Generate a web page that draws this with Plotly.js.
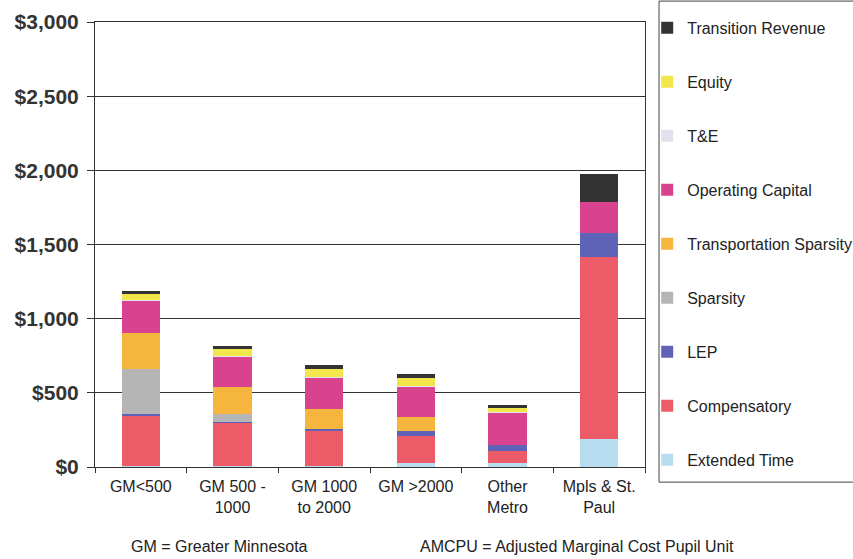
<!DOCTYPE html>
<html>
<head>
<meta charset="utf-8">
<script src="https://cdn.plot.ly/plotly-3.0.1.min.js"></script>
<style>html,body{margin:0;padding:0;background:#fff;}#chart{width:853px;height:559px;}</style>
</head>
<body>
<div id="chart"></div>
<script>
var categories = ["GM<500", "GM 500 -<br>1000", "GM 1000<br>to 2000", "GM >2000", "Other<br>Metro", "Mpls & St.<br>Paul"];

var extendedTime   = [5, 5, 10, 30, 30, 188];
var compensatory   = [340, 290, 235, 180, 78, 1226];
var lep            = [10, 8, 8, 33, 40, 163];
var sparsity       = [305, 57, 0, 0, 0, 0];
var transSparsity  = [245, 180, 140, 95, 0, 0];
var operatingCap   = [215, 203, 207, 200, 215, 209];
var tAndE          = [5, 5, 5, 5, 5, 0];
var equity         = [42, 50, 58, 60, 33, 0];
var transitionRev  = [20, 20, 25, 23, 18, 187];

var yTickVals = [0, 500, 1000, 1500, 2000, 2500, 3000];
var yTickText = ["$0", "$500", "$1,000", "$1,500", "$2,000", "$2,500", "$3,000"];

var seriesNames = ["Extended Time", "Compensatory", "LEP", "Sparsity", "Transportation Sparsity", "Operating Capital", "T&E", "Equity", "Transition Revenue"];
var seriesData = [extendedTime, compensatory, lep, sparsity, transSparsity, operatingCap, tAndE, equity, transitionRev];
var seriesColors = ["#B8DDF0", "#EE5B68", "#5F63B8", "#B5B5B5", "#F6B63E", "#D8428F", "#E2E2EE", "#F3E64C", "#333333"];

var traces = seriesNames.map(function(name, i) {
  return {
    type: "bar",
    name: name,
    x: categories,
    y: seriesData[i],
    marker: {color: seriesColors[i], line: {width: 0}},
    legendgroup: "g" + i,
    legendrank: (seriesNames.length - i) * 10,
    hoverinfo: "y+name"
  };
});

var layout = {
  width: 853,
  height: 559,
  barmode: "stack",
  bargap: 0.58,
  paper_bgcolor: "#ffffff",
  plot_bgcolor: "#ffffff",
  margin: {l: 95, r: 208, t: 22, b: 92, autoexpand: false},
  font: {family: "Liberation Sans, Arial, sans-serif", color: "#222"},
  xaxis: {
    showline: true, linecolor: "#333", linewidth: 1, mirror: true,
    ticks: "outside", tickson: "boundaries", ticklen: 5, tickcolor: "#333",
    tickfont: {size: 16, color: "#222"},
    ticklabelstandoff: 5,
    showgrid: false
  },
  yaxis: {
    range: [0, 3000],
    tickvals: yTickVals, ticktext: yTickText,
    showline: true, linecolor: "#333", linewidth: 1, mirror: true,
    ticks: "outside", ticklen: 7, tickcolor: "#333",
    tickfont: {size: 21, color: "#333", weight: "bold"},
    ticklabelstandoff: 4,
    showgrid: true, gridcolor: "#333", gridwidth: 1,
    zeroline: false
  },
  legend: {
    x: 1.004, xanchor: "left", y: 1.025, yanchor: "top",
    traceorder: "grouped",
    tracegroupgap: 30.2,
    maxheight: 700,
    font: {size: 16, color: "#222"},
    bgcolor: "rgba(0,0,0,0)", borderwidth: 0
  },
  shapes: [
    {type: "rect", xref: "paper", yref: "paper", x0: 1.0255, x1: 1.6, y0: -0.034, y1: 1.047,
     line: {color: "#444", width: 1}, fillcolor: "rgba(0,0,0,0)"}
  ],
  annotations: [
    {xref: "paper", yref: "paper", x: 0.227, y: -0.178, xanchor: "center", yanchor: "middle",
     text: "GM = Greater Minnesota", showarrow: false, font: {size: 16, color: "#222"}},
    {xref: "paper", yref: "paper", x: 0.876, y: -0.178, xanchor: "center", yanchor: "middle",
     text: "AMCPU = Adjusted Marginal Cost Pupil Unit", showarrow: false, font: {size: 16, color: "#222"}}
  ]
};

Plotly.newPlot("chart", traces, layout, {displayModeBar: false, staticPlot: true});
</script>
</body>
</html>
